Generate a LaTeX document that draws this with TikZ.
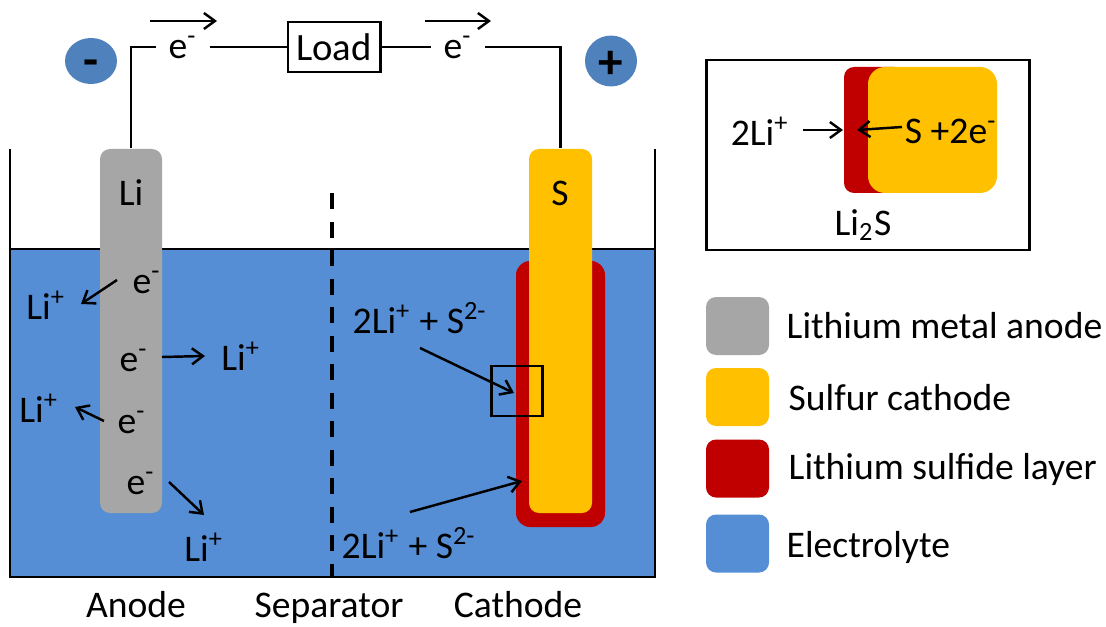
\documentclass[tikz,border=0pt]{standalone}
\usepackage{fontspec}
\setmainfont{Carlito}
\usepackage{xcolor}
\usetikzlibrary{arrows.meta}
\usetikzlibrary{shapes.geometric}
\definecolor{liGray}{HTML}{A6A6A6}
\definecolor{sulfurYellow}{HTML}{FFC000}
\definecolor{sulfideRed}{HTML}{C00000}
\definecolor{electrolyteBlue}{HTML}{558ED5}
\definecolor{poleBlue}{HTML}{4F81BD}
\tikzset{
	txt/.style={font=\fontsize{10.7}{12}\selectfont,inner sep=0pt},
	bar/.style={rounded corners=.1cm,minimum width=.62cm,inner sep=0pt},
	key/.style={rounded corners=.1cm,minimum width=.63cm,minimum height=.58cm,inner sep=0pt},
	pole/.style={ellipse,fill=poleBlue,minimum width=.52cm,minimum height=.46cm,inner sep=0pt,font=\bfseries\fontsize{14}{14}\selectfont},
	frame/.style={draw,line width=.85pt,inner sep=0pt},
	wire/.style={line width=.6pt},
	flow/.style={line width=.7pt,-{Straight Barb[length=1.1mm,width=1.6mm]}}
}
\newcommand{\el}{e\textsuperscript{-}}
\newcommand{\lip}{Li\textsuperscript{+}}
\begin{document}
\begin{tikzpicture}
	\useasboundingbox (0,0) rectangle (11.06,6.26);
	
	\fill[electrolyteBlue] (.10,.49) rectangle (6.55,3.77);
	\coordinate (tl) at (.10,4.77);
	\coordinate (bl) at (.10,.49);
	\coordinate (br) at (6.55,.49);
	\coordinate (tr) at (6.55,4.77);
	\coordinate (wl) at (.10,3.77);
	\coordinate (wr) at (6.55,3.77);
	\draw[line width=.7pt] (tl) -- (bl) -- (br) -- (tr);
	\draw[line width=.6pt] (wl) -- (wr);
	\coordinate (septop) at (3.32,4.33);
	\coordinate (sepbot) at (3.32,.49);
	\draw[line width=1.3pt,dash pattern=on .16cm off .125cm] (septop) -- (sepbot);
	
	\node[bar,fill=liGray,minimum height=3.64cm] at (1.31,2.95) (anode) {};
	\node[rounded corners=.14cm,fill=sulfideRed,minimum width=.89cm,minimum height=2.66cm,inner sep=0pt] at (5.605,2.32) (layer) {};
	\node[bar,fill=sulfurYellow,minimum height=3.64cm,minimum width=.63cm] at (5.605,2.95) (cathode) {};
	\node[frame,minimum width=.51cm,minimum height=.50cm] at (5.165,2.35) (zoombox) {};
	
	\node[frame,minimum width=.92cm,minimum height=.50cm,font=\fontsize{11}{13}\selectfont] at (3.34,5.79) (load) {Load};
	\node[txt,inner xsep=.12cm] at (1.83,5.79) (eleft) {\el};
	\node[txt,inner xsep=.12cm] at (4.58,5.79) (eright) {\el};
	\draw[wire] (anode.north) |- (eleft.west);
	\draw[wire] (eleft.east) -- (load.west);
	\draw[wire] (load.east) -- (eright.west);
	\draw[wire] (eright.east) -| (cathode.north);
	\coordinate (cl1) at (1.50,6.05);
	\coordinate (cl2) at (2.17,6.05);
	\coordinate (cr1) at (4.25,6.05);
	\coordinate (cr2) at (4.91,6.05);
	\draw[flow] (cl1) -- (cl2);
	\draw[flow] (cr1) -- (cr2);
	
	\node[pole,text height=.32cm,text depth=0cm] at (.91,5.65) (minus) {-};
	\node[pole,text height=.36cm,text depth=0cm] at (6.11,5.65) (plus) {+};
	
	\node[txt] at (1.31,4.33) (li) {Li};
	\node[txt] at (5.60,4.33) (s) {S};
	
	\node[txt] at (1.47,3.44) (e1) {\el};
	\node[txt] at (1.34,2.66) (e2) {\el};
	\node[txt] at (1.32,2.04) (e3) {\el};
	\node[txt] at (1.41,1.43) (e4) {\el};
	\node[txt] at (.46,3.21) (li1) {\lip};
	\node[txt] at (2.41,2.70) (li2) {\lip};
	\node[txt] at (.39,2.18) (li3) {\lip};
	\node[txt] at (2.04,.79) (li4) {\lip};
	\coordinate (a1) at (1.17,3.46);
	\coordinate (b1) at (.81,3.22);
	\coordinate (a2) at (1.62,2.69);
	\coordinate (b2) at (2.05,2.70);
	\coordinate (a3) at (1.04,2.05);
	\coordinate (b3) at (.75,2.19);
	\coordinate (a4) at (1.69,1.44);
	\coordinate (b4) at (2.04,1.11);
	\draw[flow] (a1) -- (b1);
	\draw[flow] (a2) -- (b2);
	\draw[flow] (a3) -- (b3);
	\draw[flow] (a4) -- (b4);
	
	\node[txt] at (4.20,3.08) (ions1) {2\lip{} + S\textsuperscript{2-}};
	\node[txt] at (4.09,.83) (ions2) {2\lip{} + S\textsuperscript{2-}};
	\coordinate (i1) at (4.20,2.78);
	\coordinate (j1) at (5.14,2.33);
	\coordinate (i2) at (4.10,1.14);
	\coordinate (j2) at (5.22,1.45);
	\draw[flow] (i1) -- (j1);
	\draw[flow] (i2) -- (j2);
	
	\node[txt,anchor=base] at (1.36,.09) (anodelabel) {Anode};
	\node[txt,anchor=base] at (3.29,.09) (seplabel) {Separator};
	\node[txt,anchor=base] at (5.18,.09) (cathodelabel) {Cathode};
	
	% inset
	\node[frame,minimum width=3.23cm,minimum height=1.90cm] at (8.675,4.71) (inset) {};
	\node[rounded corners=.1cm,fill=sulfideRed,minimum width=.60cm,minimum height=1.26cm,inner sep=0pt] at (8.74,4.96) (insetred) {};
	\node[rounded corners=.17cm,fill=sulfurYellow,minimum width=1.29cm,minimum height=1.26cm,inner sep=0pt] at (9.325,4.96) (insetyellow) {};
	\node[txt] at (7.60,4.95) (inli) {2\lip};
	\node[txt] at (9.51,4.95) (ins) {S +2\el};
	\node[txt] at (8.63,4.01) (insulfide) {Li\textsubscript{2}S};
	\coordinate (p1) at (8.03,4.96);
	\coordinate (p2) at (8.43,4.96);
	\coordinate (q1) at (9.02,4.99);
	\coordinate (q2) at (8.57,4.96);
	\draw[flow] (p1) -- (p2);
	\draw[flow] (q1) -- (q2);
	
	% legend
	\node[key,fill=liGray] at (7.375,3.00) (k1) {};
	\node[key,fill=sulfurYellow] at (7.375,2.29) (k2) {};
	\node[key,fill=sulfideRed] at (7.375,1.575) (k3) {};
	\node[key,fill=electrolyteBlue] at (7.375,.825) (k4) {};
	\node[txt,anchor=west] at (7.86,3.00) (t1) {Lithium metal anode};
	\node[txt,anchor=west] at (7.88,2.28) (t2) {Sulfur cathode};
	\node[txt,anchor=west] at (7.88,1.57) (t3) {Lithium sulfide layer};
	\node[txt,anchor=west] at (7.86,.79) (t4) {Electrolyte};
\end{tikzpicture}
\end{document}
